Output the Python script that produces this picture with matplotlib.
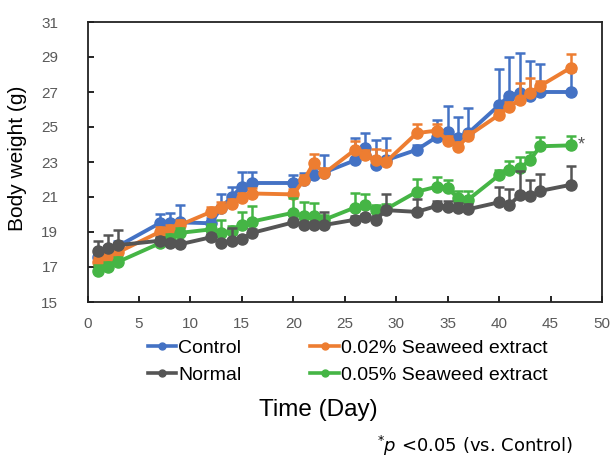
import numpy as np
import matplotlib
matplotlib.use('Agg')
import matplotlib.pyplot as plt
from matplotlib.lines import Line2D

days = [1, 2, 3, 7, 8, 9, 12, 13, 14, 15, 16, 20, 21, 22, 23,
        26, 27, 28, 29, 32, 34, 35, 36, 37, 40, 41, 42, 43, 44, 47]

control = [17.6, 17.9, 18.2, 19.5, 19.5, 19.55, 19.5, 20.4, 21.0, 21.6, 21.8,
           21.8, 21.95, 22.25, 22.4, 23.1, 23.8, 22.85, 23.1, 23.7, 24.45,
           24.7, 24.35, 24.65, 26.25, 26.8, 26.95, 26.8, 27.0, 27.0]
control_err = [0.3, 0.3, 0.3, 0.55, 0.6, 1.0, 0.3, 0.8, 0.6, 0.8, 0.6,
               0.45, 0.4, 0.4, 1.0, 1.25, 0.85, 1.4, 1.25, 0.3, 0.95,
               1.5, 1.25, 1.45, 2.05, 2.2, 2.3, 1.95, 1.6, 1.2]

seaweed02 = [17.3, 17.6, 17.85, 19.0, 19.1, 19.4, 20.15, 20.4, 20.6, 20.95, 21.2,
             21.15, 21.95, 22.95, 22.35, 23.7, 23.4, 23.1, 23.0, 24.65, 24.8,
             24.2, 23.85, 24.5, 25.7, 26.15, 26.55, 26.95, 27.35, 28.4]
seaweed02_err = [0.3, 0.3, 0.3, 0.3, 0.3, 0.3, 0.3, 0.3, 0.3, 0.3, 0.3,
                 0.3, 0.3, 0.5, 0.3, 0.5, 0.3, 0.65, 0.7, 0.55, 0.4,
                 0.3, 0.3, 0.3, 0.3, 0.3, 0.95, 0.85, 0.3, 0.8]

seaweed05 = [16.8, 17.0, 17.3, 18.35, 18.6, 18.95, 19.15, 18.95, 19.05, 19.4, 19.6,
             20.1, 19.9, 19.9, 19.7, 20.4, 20.55, 20.25, 20.3, 21.3, 21.6,
             21.5, 20.95, 20.85, 22.25, 22.55, 22.65, 23.1, 23.9, 23.95]
seaweed05_err = [0.3, 0.3, 0.3, 0.3, 0.3, 0.3, 0.3, 0.75, 0.3, 0.75, 0.9,
                 0.85, 0.8, 0.75, 0.3, 0.85, 0.6, 0.3, 0.3, 0.75, 0.55,
                 0.45, 0.4, 0.5, 0.3, 0.5, 0.65, 0.5, 0.55, 0.55]

normal = [17.9, 18.1, 18.25, 18.5, 18.35, 18.3, 18.7, 18.35, 18.5, 18.6, 18.95,
          19.55, 19.4, 19.4, 19.4, 19.7, 19.85, 19.7, 20.25, 20.15, 20.5,
          20.45, 20.35, 20.3, 20.7, 20.55, 21.1, 21.05, 21.35, 21.7]
normal_err = [0.6, 0.75, 0.85, 0.2, 0.2, 0.2, 0.2, 0.2, 0.75, 0.2, 0.2,
              0.2, 0.2, 0.2, 0.75, 0.2, 0.2, 0.2, 0.95, 0.75, 0.3,
              0.3, 0.3, 0.3, 0.9, 0.9, 1.4, 0.9, 0.95, 1.05]

names = ['Control', 'Normal', '0.02% Seaweed extract', '0.05% Seaweed extract']
colors = {'Control': '#4472C4', 'Normal': '#555555',
          '0.02% Seaweed extract': '#ED7D31', '0.05% Seaweed extract': '#45B545'}
series = {'Control': (control, control_err), 'Normal': (normal, normal_err),
          '0.02% Seaweed extract': (seaweed02, seaweed02_err),
          '0.05% Seaweed extract': (seaweed05, seaweed05_err)}
draw_order = ['Control', '0.02% Seaweed extract', '0.05% Seaweed extract', 'Normal']

plt.rcParams['font.family'] = ['Liberation Sans', 'DejaVu Sans']

fig = plt.figure(figsize=(6.13, 4.59), dpi=100)
ax = fig.add_axes([87.5 / 613, 1 - 302 / 459, 514.5 / 613, 280 / 459])

for i, name in enumerate(draw_order):
    vals, err = series[name]
    c = colors[name]
    # only the upper half of each error bar is shown
    ax.errorbar(days, vals, yerr=[np.zeros(len(err)), err], color=c,
                lw=2.8, marker='o', ms=8, mec=c, mfc=c,
                elinewidth=1.8, capsize=3.5, capthick=1.8, zorder=3 + i)

ax.text(47.6, 24.0, '*', color='#555555', fontsize=13, ha='left', va='center')

ax.set_xlim(0, 50)
ax.set_ylim(15, 31)
ax.set_xticks(np.arange(0, 51, 5))
ax.set_yticks(np.arange(15, 32, 2))
ax.tick_params(direction='in', length=4, width=1.2, labelsize=11,
               labelcolor='#595959')
ax.tick_params(axis='y', pad=21)
ax.tick_params(axis='x', pad=11)
for sp in ax.spines.values():
    sp.set_linewidth(1.3)
    sp.set_color('#222222')

ax.set_ylabel('Body weight (g)', fontsize=15)
ax.yaxis.set_label_coords(-0.117, 0.512)

handles = [Line2D([], [], color=colors[n], lw=2.6, marker='o', ms=5) for n in names]
fig.legend(handles, names, loc='upper left', bbox_to_anchor=(148 / 613, 1 - 339 / 459),
           ncol=2, frameon=False, fontsize=14, handlelength=1.45,
           handletextpad=0.1, columnspacing=3.55, labelspacing=0.48,
           borderpad=0, borderaxespad=0)

fig.text(318 / 613, 1 - 410 / 459, 'Time (Day)', fontsize=17.5, ha='center', va='center')
fig.text(573 / 613, 1 - 446 / 459, r'$^{*}\mathit{p}$ <0.05 (vs. Control)',
         fontsize=13, family='DejaVu Sans', ha='right', va='center')

fig.savefig('out.png', dpi=100)
